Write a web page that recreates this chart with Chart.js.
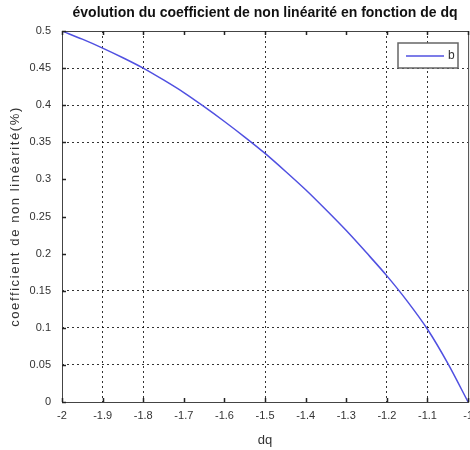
<!DOCTYPE html>
<html>
<head>
<meta charset="utf-8">
<script src="https://cdn.jsdelivr.net/npm/chart.js@4.4.0/dist/chart.umd.min.js"></script>
<style>
  html, body { margin: 0; padding: 0; background: #fff; overflow: hidden; }
  #wrap { width: 480px; height: 450px; }
</style>
</head>
<body>
<div id="wrap"><canvas id="graph"></canvas></div>
<script>
// valeurs
const dqValues = [-2, -1.95, -1.9, -1.85, -1.8, -1.75, -1.7, -1.65, -1.6, -1.55, -1.5,
                  -1.45, -1.4, -1.35, -1.3, -1.25, -1.2, -1.15, -1.1, -1.05, -1];
const coefValues = [0.500, 0.489, 0.477, 0.464, 0.450, 0.434, 0.417, 0.398, 0.378, 0.357, 0.335,
                    0.311, 0.286, 0.259, 0.231, 0.201, 0.170, 0.136, 0.098, 0.052, 0.000];
const seriesName = 'b';
const mainTitle = 'évolution du coefficient de non linéarité en fonction de dq';
const yTitle = 'coefficient de non linéarité(%)';

// lignes de grille effectivement tracées
const xGridShown = [-1.9, -1.8, -1.5, -1.2, -1.1];
const yGridShown = [0.45, 0.4, 0.35, 0.15, 0.1, 0.05];

const fontFamily = '"Liberation Sans", Arial, sans-serif';
const textColor = '#333';
const lineColor = 'rgb(80, 80, 225)';

function near(list, v) {
    return list.some(g => Math.abs(g - v) < 1e-6);
}

function shortLabel(v) {
    return String(Math.round(v * 100) / 100);
}

// cadre, graduations vers l'intérieur, titres et légende
const matlabAxes = {
    id: 'matlabAxes',
    afterDraw(chart) {
        const ctx = chart.ctx;
        const area = chart.chartArea;
        const xs = chart.scales.x;
        const ys = chart.scales.y;
        ctx.save();
        ctx.strokeStyle = '#444';
        ctx.lineWidth = 1;
        ctx.strokeRect(area.left + 0.5, area.top + 0.5, area.right - area.left, area.bottom - area.top);

        ctx.strokeStyle = '#222';
        ctx.lineWidth = 1.5;
        xs.ticks.forEach(t => {
            const px = Math.round(xs.getPixelForValue(t.value)) + 0.5;
            ctx.beginPath();
            ctx.moveTo(px, area.bottom); ctx.lineTo(px, area.bottom - 4);
            ctx.moveTo(px, area.top); ctx.lineTo(px, area.top + 4);
            ctx.stroke();
        });
        ys.ticks.forEach(t => {
            const py = Math.round(ys.getPixelForValue(t.value)) + 0.5;
            ctx.beginPath();
            ctx.moveTo(area.left, py); ctx.lineTo(area.left + 4, py);
            ctx.stroke();
        });

        // titre principal centré sur la zone de tracé
        ctx.fillStyle = '#111';
        ctx.font = 'bold 14px ' + fontFamily;
        ctx.textAlign = 'center';
        ctx.textBaseline = 'middle';
        ctx.fillText(mainTitle, (area.left + area.right) / 2, 13);

        // titre vertical, un peu espacé
        ctx.save();
        ctx.translate(15, (area.top + area.bottom) / 2);
        ctx.rotate(-Math.PI / 2);
        ctx.font = '13px ' + fontFamily;
        ctx.letterSpacing = '1.6px';
        ctx.fillStyle = textColor;
        ctx.textAlign = 'center';
        ctx.textBaseline = 'middle';
        ctx.fillText(yTitle, 0, 0);
        ctx.restore();

        // légende en haut à droite
        const bx = 398, by = 43, bw = 60, bh = 25;
        ctx.fillStyle = '#fff';
        ctx.fillRect(bx, by, bw, bh);
        ctx.strokeStyle = '#666';
        ctx.lineWidth = 1.5;
        ctx.strokeRect(bx, by, bw, bh);
        ctx.strokeStyle = lineColor;
        ctx.lineWidth = 1.5;
        ctx.beginPath();
        ctx.moveTo(bx + 8, by + 13); ctx.lineTo(bx + 46, by + 13);
        ctx.stroke();
        ctx.fillStyle = textColor;
        ctx.font = '12px ' + fontFamily;
        ctx.textAlign = 'left';
        ctx.fillText(chart.data.datasets[0].label, bx + 50, by + 13);
        ctx.restore();
    }
};

const ctx = document.getElementById('graph').getContext('2d');
const chart = new Chart(ctx, {
    type: 'line',
    data: {
        datasets: [{
            label: seriesName,
            data: dqValues.map((x, i) => ({ x: x, y: coefValues[i] })),
            borderColor: lineColor,
            borderWidth: 1.5,
            pointRadius: 0,
            cubicInterpolationMode: 'monotone',
            fill: false
        }]
    },
    options: {
        responsive: true,
        maintainAspectRatio: false,
        animation: false,
        layout: { padding: { left: 4, top: 31, right: 0, bottom: 2 } },
        plugins: {
            legend: { display: false },
            tooltip: { enabled: false },
            title: { display: false }
        },
        scales: {
            x: {
                type: 'linear',
                min: -2,
                max: -1,
                ticks: {
                    stepSize: 0.1,
                    color: textColor,
                    font: { family: fontFamily, size: 11 },
                    padding: 7,
                    callback: v => shortLabel(v)
                },
                grid: {
                    drawTicks: false,
                    color: c => near(xGridShown, c.tick.value) ? 'rgba(0,0,0,0.8)' : 'rgba(0,0,0,0)',
                    lineWidth: 1
                },
                border: { display: false, dash: [2, 3] },
                title: {
                    display: true,
                    text: 'dq',
                    color: textColor,
                    font: { family: fontFamily, size: 13 },
                    padding: { top: 2, bottom: 0 }
                },
                afterFit: scale => { scale.height = 46; }
            },
            y: {
                min: 0,
                max: 0.5,
                ticks: {
                    stepSize: 0.05,
                    color: textColor,
                    font: { family: fontFamily, size: 11 },
                    padding: 11,
                    callback: v => shortLabel(v)
                },
                grid: {
                    drawTicks: false,
                    color: c => near(yGridShown, c.tick.value) ? 'rgba(0,0,0,0.8)' : 'rgba(0,0,0,0)',
                    lineWidth: 1
                },
                border: { display: false, dash: [2, 3] },
                afterFit: scale => { scale.width = 58; }
            }
        }
    },
    plugins: [matlabAxes]
});
</script>
</body>
</html>
